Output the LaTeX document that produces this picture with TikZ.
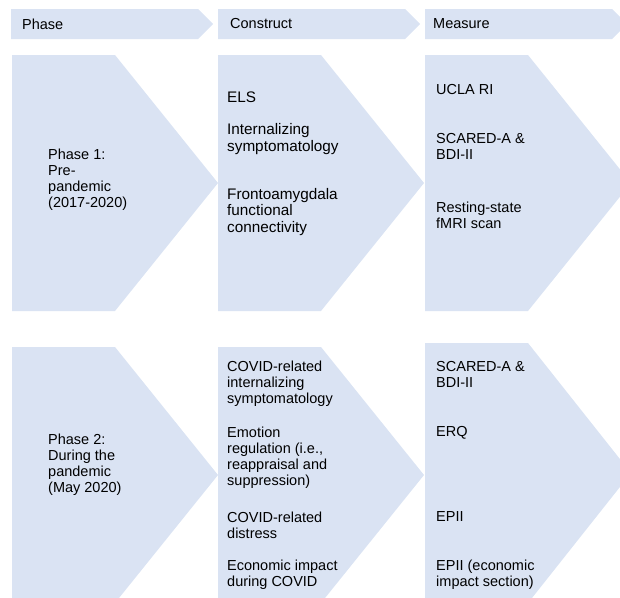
\documentclass[tikz,border=0pt]{standalone}
\usepackage{fontspec}
\setmainfont{Liberation Sans}
\definecolor{chevblue}{HTML}{DAE3F3}

\begin{document}
\begin{tikzpicture}[
    x=1pt, y=-1pt,
    chev/.style={fill=chevblue},
    cell/.style={anchor=west, inner sep=0pt, align=left, font=\fontsize{14.5}{16}\selectfont},
    bigcell/.style={cell, font=\fontsize{15.3}{16.5}\selectfont}
]
\useasboundingbox (0,0) rectangle (620,597);

% Header chevrons
\foreach \lx in {11,218,425}
  \fill[chev] (\lx,9) -- ++(187,0) -- ++(15,15) -- ++(-15,15) -- ++(-187,0) -- cycle;

% Phase / Construct / Measure chevrons (left, top, bottom)
\foreach \lx/\ty/\by in {12/55/311, 218/55/311, 425/55/311, 12/347/603, 218/347/603, 425/343/603}
  \fill[chev] (\lx,\ty) -- ++(103,0) -- ({\lx+206},{(\ty+\by)/2}) -- ({\lx+103},\by) -- (\lx,\by) -- cycle;

% Header
\node[cell] (hphase) at (22,24) {Phase};
\node[cell] (hconstruct) at (230,24) {Construct};
\node[cell] (hmeasure) at (433,24) {Measure};

% Phase 1
\node[cell] (phase1) at (48,180) {Phase 1:\\Pre-\\pandemic\\(2017-2020)};
\node[bigcell] (els) at (227,97) {ELS};
\node[bigcell] (intsym) at (227,139) {Internalizing\\symptomatology};
\node[bigcell] (frontoamy) at (227,212) {Frontoamygdala\\functional\\connectivity};
\node[cell] (ucla) at (436,90) {UCLA RI};
\node[cell] (scared1) at (436,146) {SCARED-A \&\\BDI-II};
\node[cell] (fmri) at (436,215) {Resting-state\\fMRI scan};

% Phase 2
\node[cell] (phase2) at (48,465) {Phase 2:\\During the\\pandemic\\(May 2020)};
\node[cell] (covidint) at (227,384) {COVID-related\\internalizing\\symptomatology};
\node[cell] (emoreg) at (227,458) {Emotion\\regulation (i.e.,\\reappraisal and\\suppression)};
\node[cell] (coviddis) at (227,525) {COVID-related\\distress};
\node[cell] (econ) at (227,575) {Economic impact\\during COVID};
\node[cell] (scared2) at (436,374) {SCARED-A \&\\BDI-II};
\node[cell] (erq) at (436,433) {ERQ};
\node[cell] (epii) at (436,517) {EPII};
\node[cell] (epiiecon) at (436,575) {EPII (economic\\impact section)};

\end{tikzpicture}
\end{document}
